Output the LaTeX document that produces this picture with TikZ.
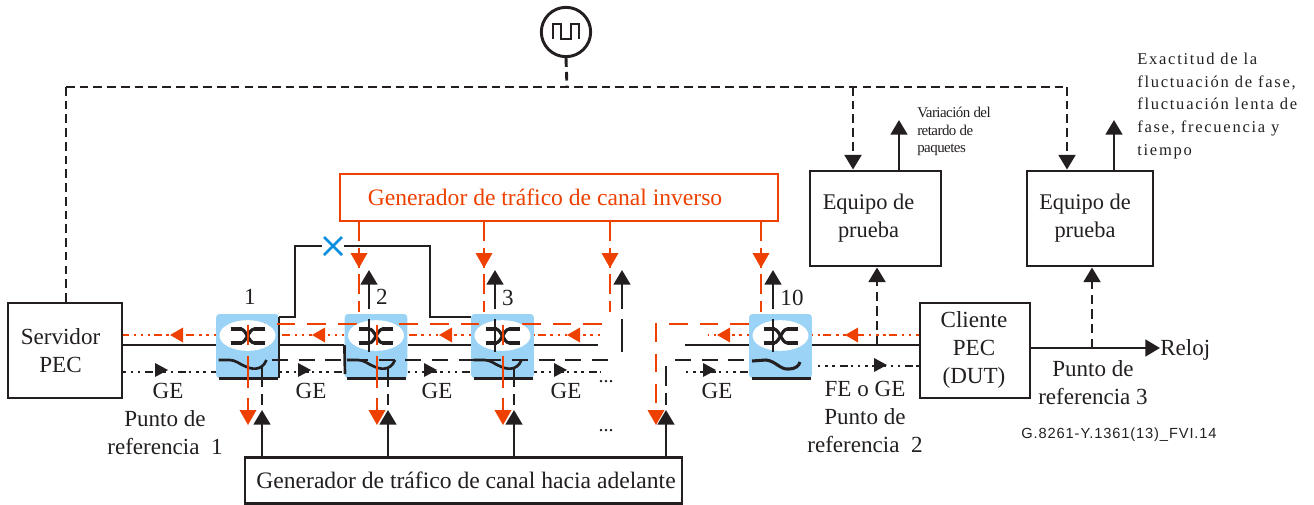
\documentclass[tikz,border=0pt]{standalone}
\usepackage{fontspec}
\setmainfont{Liberation Serif}
\usetikzlibrary{arrows.meta,shapes.geometric}
\definecolor{ink}{HTML}{231F20}
\definecolor{redl}{HTML}{EE4000}
\definecolor{bluesw}{HTML}{9AD3F6}
\definecolor{bluex}{HTML}{0A8FE0}
\newcommand{\tsz}[2]{\fontsize{#1}{#2}\selectfont}
\newcommand{\hl}[3]{\fill[#1] (#2,#3) -- ++(13,-7.5) -- ++(0,15) -- cycle;}
\newcommand{\hr}[3]{\fill[#1] (#2,#3) -- ++(-13,-7) -- ++(0,14) -- cycle;}
\newcommand{\hd}[3]{\fill[#1] (#2,#3) -- ++(-8.5,-15) -- ++(17,0) -- cycle;}
\tikzset{
  x=0.75pt,y=-0.75pt,
  boxn/.style={draw=ink,line width=2.1pt,fill=white,inner sep=0pt},
  lab/.style={text=ink,inner sep=0pt,align=center,font=\tsz{17.3}{21}},
  swbox/.style={fill=bluesw,rounded corners=2.5pt,minimum width=47pt,minimum height=48pt,inner sep=0pt},
  swell/.style={fill=white,ellipse,minimum width=42pt,minimum height=23pt,inner sep=0pt},
  solidl/.style={draw=ink,line width=2pt},
  blackdash/.style={draw=ink,line width=2pt,dash pattern=on 12pt off 8pt},
  clockdash/.style={draw=ink,line width=2.2pt,dash pattern=on 6.5pt off 3.8pt},
  blackdot/.style={draw=ink,line width=1.9pt,dash pattern=on 1.8pt off 3.6pt on 1.8pt off 3.6pt on 1.8pt off 3.6pt on 6pt off 2.4pt},
  reddash/.style={draw=redl,line width=2pt,dash pattern=on 14pt off 9pt},
  reddot/.style={draw=redl,line width=2pt,dash pattern=on 1.8pt off 3.6pt on 1.8pt off 3.6pt on 1.8pt off 3.6pt on 6pt off 2.4pt},
  tiphead/.style={-{Triangle[length=11pt,width=12.5pt]}},
}
\begin{document}
\begin{tikzpicture}
\useasboundingbox (0,0) rectangle (1314,504);
% switches: blue bodies
\foreach \n/\cx in {1/247.5,2/376,3/502.5,10/780.5}{
  \node[swbox] (sw\n) at (\cx,346) {};
}
% boxes
\node[boxn,minimum width=85.5pt,minimum height=71.25pt] (srv) at (65,350.5) {};
\node[lab] (srvt) at (60.5,351) {Servidor\\PEC};
\node[boxn,minimum width=82.5pt,minimum height=71.25pt] (cli) at (975,350.5) {};
\node[lab] (clit) at (974,350) {Cliente\\PEC\\(DUT)};
\node[boxn,minimum width=98.25pt,minimum height=71.25pt] (eq1) at (875.5,218.5) {};
\node[lab,font=\tsz{16.8}{21}] (eq1t) at (868.5,218) {Equipo de\\prueba};
\node[boxn,minimum width=94.5pt,minimum height=71.25pt] (eq2) at (1090,218.5) {};
\node[lab,font=\tsz{16.8}{21}] (eq2t) at (1085,218) {Equipo de\\prueba};
\node[draw=redl,line width=1.7pt,fill=white,inner sep=0pt,minimum width=328.5pt,minimum height=35.25pt] (gi) at (559,197.5) {};
\node[text=redl,inner sep=0pt,font=\tsz{17.7}{21}] (gitxt) at (545,197) {Generador de tráfico de canal inverso};
\node[boxn,minimum width=327.75pt,minimum height=34.5pt] (gf) at (463.5,480.5) {};
\node[lab,font=\tsz{17.7}{21}] (gft) at (466,480) {Generador de tráfico de canal hacia adelante};
\node[draw=ink,line width=2.2pt,circle,fill=white,minimum size=37pt,inner sep=0pt] (clk) at (566,32) {};
\draw[ink,line width=2.2pt] (553,38.5) -- (553,24) -- (561,24) -- (561,39) -- (571,39) -- (571,24) -- (579,24) -- (579,38.5);
% clock distribution
\coordinate (tj) at (567,87);
\coordinate (tl) at (66,87);
\coordinate (tm) at (853,87);
\coordinate (tr) at (1067,87);
\draw[clockdash] (clk.south) -- (tj);
\draw[clockdash] (tl) -- (tr);
\draw[clockdash] (tl) -- (tl |- srv.north);
\draw[clockdash,tiphead] (tm) -- (tm |- eq1.north);
\draw[clockdash,tiphead] (tr) -- (tr |- eq2.north);
% outputs of test sets
\coordinate (oa) at (899,120);
\coordinate (ob) at (1114,120);
\draw[solidl,tiphead] (oa |- eq1.north) -- (oa);
\draw[solidl,tiphead] (ob |- eq2.north) -- (ob);
% main solid line
\draw[solidl] (srv.east |- 0,345) -- (sw1.west |- 0,345);
\draw[solidl] (sw1.east |- 0,345) -- (sw2.west |- 0,345);
\draw[solidl] (sw2.east |- 0,345) -- (sw3.west |- 0,345);
\coordinate (cutl) at (598,345);
\coordinate (cutr) at (685,345);
\draw[solidl] (sw3.east |- 0,345) -- (cutl);
\draw[solidl] (cutr) -- (sw10.west |- 0,345);
\draw[solidl] (sw10.east |- 0,345) -- (cli.west |- 0,345);
% bypass
\draw[solidl] (sw1.east |- 0,317) -- (295,317) -- (295,246) -- (430,246) -- (430,317) -- (sw3.west |- 0,317);
\draw[solidl] (sw1.east |- 0,317) -- (sw1.east |- 0,378);
\draw[solidl] (sw2.west |- 0,345) -- (345,374);
\foreach \n in {1,2,3,10}{
  \draw[solidl,line width=2.4pt] ([xshift=2pt]sw\n.south west) -- ([xshift=-1pt]sw\n.south east);
}
\draw[white,line width=5pt] (322,246) -- (344,246);
\draw[bluex,line width=2pt] (324,237) -- (342,255) (342,237) -- (324,255);
% reverse traffic: dashed red
\draw[reddash] (602,324) -- (255,324);
\draw[reddash] (sw10.west |- 0,324) -- (656,324) -- (656,411);
\hd{redl}{656}{425}
% red dotted
\draw[reddot] (sw1.west |- 0,335) -- (srv.east |- 0,335);
\draw[reddot] (sw2.west |- 0,335) -- (sw1.east |- 0,335);
\draw[reddot] (sw3.west |- 0,335) -- (sw2.east |- 0,335);
\draw[reddot] (600,335) -- (sw3.east |- 0,335);
\draw[reddot] (sw10.west |- 0,335) -- (708,335);
\draw[reddot] (cli.west |- 0,335) -- (sw10.east |- 0,335);
\hl{redl}{170}{335}\hl{redl}{312}{335}\hl{redl}{439}{335}\hl{redl}{567}{335}\hl{redl}{717}{335}\hl{redl}{845}{335}
% black dotted
\draw[blackdot] (srv.east |- 0,372) -- (sw1.west |- 0,372);
\draw[blackdot] (sw1.east |- 0,372) -- (sw2.west |- 0,372);
\draw[blackdot] (sw2.east |- 0,372) -- (sw3.west |- 0,372);
\draw[blackdot] (sw3.east |- 0,372) -- (600,372);
\draw[blackdot] (686,372) -- (sw10.west |- 0,372);
\draw[blackdot] (818,366) -- (cli.west |- 0,366);
\hr{ink}{168}{370}\hr{ink}{311}{370}\hr{ink}{437}{370}\hr{ink}{567}{370}\hr{ink}{716}{370}\hr{ink}{887}{365}
% black dashed
\draw[blackdash] (272,360) -- (617,360);
\draw[blackdash] (675,360) -- (752,360);
% ellipses and switching symbols
\foreach \n/\cx in {1/247.5,2/376,3/502.5,10/780.5}{
  \node[swell] (el\n) at (\cx,335.5) {};
  \begin{scope}[shift={(\cx,336)}]
    \draw[ink,line width=3.5pt] (-17,-7) -- (-6,-7) (-17,7) -- (-6,7) (6,-7) -- (17,-7) (6,7) -- (17,7);
    \draw[ink,line width=2.4pt] (-7,-7) .. controls (-1,-7) and (1,7) .. (7,7);
    \draw[ink,line width=2.4pt] (-7,7) .. controls (-1,7) and (1,-7) .. (7,-7);
  \end{scope}
}
% waves
\foreach \cx in {247.5,376,502.5}{
  \draw[ink,line width=2pt] (\cx-29,360) -- (\cx-18,360) .. controls (\cx-12,360) and (\cx-8,364) .. (\cx-3,366) .. controls (\cx+3,369) and (\cx+14,372) .. (\cx+19,360);
}
\draw[ink,line width=2.3pt] (752,361) -- (766,360) .. controls (776,361) and (780,370) .. (789,369) .. controls (795,369) and (799,366) .. (800,362);
% red verticals from the reverse generator
\foreach \x in {359,484,610,761}{
  \draw[reddash,dash pattern=on 15pt off 5pt] (\x,221) -- (\x,312);
  \hd{redl}{\x}{268}
}
% red verticals through switches down
\foreach \x in {248,377,503}{
  \draw[redl,line width=2pt] (\x,325) -- (\x,345);
  \draw[redl,line width=2pt] (\x,356) -- (\x,388);
  \draw[redl,line width=2pt] (\x,398) -- (\x,411);
  \hd{redl}{\x}{425}
}
% black verticals up out of switches
\foreach \x in {369,495,622,773}{
  \draw[blackdash,tiphead,dash pattern=on 25pt off 7pt] (\x,352) -- (\x,270);
}
% forward generator
\foreach \x/\tp in {262/367,388/367,514/367,666/366}{
  \draw[solidl,tiphead] (\x,457) -- (\x,410);
  \draw[ink,line width=2pt,dash pattern=on 15pt off 5pt] (\x,\tp) -- (\x,405);
}
% measurement taps
\coordinate (tap2) at (877,345);
\coordinate (tap3) at (1092,348);
\draw[blackdash,tiphead,line width=2.2pt,dash pattern=on 7pt off 4pt] (tap2) -- (tap2 |- eq1.south);
\draw[blackdash,tiphead,line width=2.2pt,dash pattern=on 7pt off 4pt] (tap3) -- (tap3 |- eq2.south);
\coordinate (rel) at (1160,348);
\draw[solidl,tiphead] (cli.east |- rel) -- (rel);
% labels
\node[lab,anchor=west] (lrel) at (1160,350) {Reloj};
\node[lab] (n1) at (250,297) {1};
\node[lab] (n2) at (382,297) {2};
\node[lab] (n3) at (508,298) {3};
\node[lab] (n10) at (792,298) {10};
\node[lab] (g1) at (168,391) {GE};
\node[lab] (g2) at (311,391) {GE};
\node[lab] (g3) at (437,391) {GE};
\node[lab] (g4) at (566,391) {GE};
\node[lab] (g5) at (717,391) {GE};
\node[lab,font=\tsz{15}{21}] (d1) at (606,382) {...};
\node[lab,font=\tsz{15}{21}] (d2) at (606,431) {...};
\node[lab] (r1) at (165,433) {Punto de\\referencia\ \ 1};
\node[lab] (r2) at (865,417) {FE o GE\\Punto de\\referencia\ \ 2};
\node[lab] (r3) at (1093,383) {Punto de\\referencia 3};
\node[inner sep=0pt,align=left,anchor=north west,text=ink,font=\tsz{11.2}{13.1}] (vp) at (917,107) {\addfontfeatures{LetterSpace=-3.5}Variación del\\\addfontfeatures{LetterSpace=-3.5}retardo de\\\addfontfeatures{LetterSpace=-3.5}paquetes};
\node[inner sep=0pt,align=left,anchor=north west,text=ink,font=\tsz{12.4}{17.1}] (ex) at (1137,52.5) {\addfontfeatures{LetterSpace=10.5}Exactitud de la\\\addfontfeatures{LetterSpace=10.5}fluctuación de fase,\\\addfontfeatures{LetterSpace=10.5}fluctuación lenta de\\\addfontfeatures{LetterSpace=10.5}fase, frecuencia y\\\addfontfeatures{LetterSpace=10.5}tiempo};
\node[inner sep=0pt,text=ink] (cod) at (1119,435) {\fontspec{Liberation Sans}[LetterSpace=6]\tsz{11}{12}G.8261-Y.1361(13)\_FVI.14};
\end{tikzpicture}
\end{document}
